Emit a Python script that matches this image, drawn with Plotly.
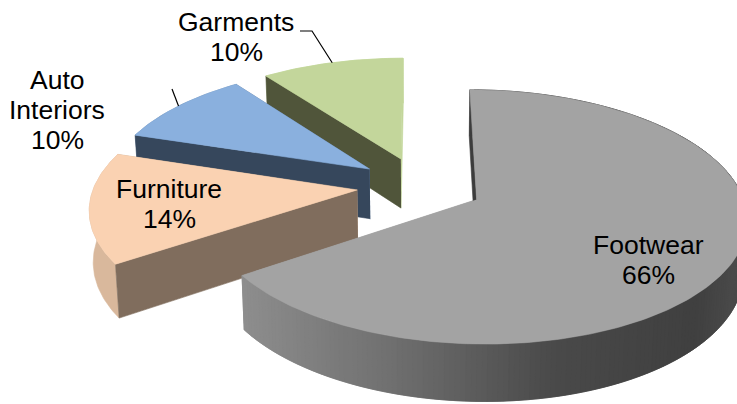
import numpy as np
import plotly.graph_objects as go

# ---- data ----
categories = ["Footwear", "Furniture", "Auto Interiors", "Garments"]
shares = [65.5, 14.4, 10.0, 10.1]

# ---- styles ----
top_colors = ["#A3A3A3", "#FAD2B2", "#8AB0DE", "#C3D69B"]
wall_colors = ["#3C3C3C", "#806D5D", "#36475C", "#50553A"]
rim_colors = [None, "#D9B89C", "#6F8FB5", "#C3D69B"]
label_lines = [["Footwear"], ["Furniture"], ["Auto", "Interiors"], ["Garments"]]
label_pos = [(648, 245), (169, 189), (57, 80), (236, 22)]
leader_elbow = {2: [(172, 89)], 3: [(300, 31), (312, 31)]}
LINE_STEP = 30

# ---- projection of the tilted, exploded pie ----
W, H = 737, 404
CX, CY, R, RB, P = 420.0, 185.7, 263.0, 121.0, 0.135
EXPLODE, DEPTH, Q = 0.24, 51.0, 0.988


def project(X, Y, bottom=False):
    s = 1.0 / (1.0 + P * np.asarray(Y, float))
    if bottom:
        return CX + R * np.asarray(X) * s * Q, CY + (-RB * np.asarray(Y) + DEPTH) * s * Q
    return CX + R * np.asarray(X) * s, CY - RB * np.asarray(Y) * s


def ang_xy(deg):
    a = np.radians(deg)
    return np.sin(a), np.cos(a)


def poly(xs, ys, color):
    return go.Scatter(x=list(xs), y=list(ys), mode="lines", fill="toself", fillcolor=color,
                      line=dict(color=color, width=0.6), hoverinfo="skip", showlegend=False)


def gray(x):
    # rim shade of the largest slice runs dark to the right
    stops_x = [245, 400, 560, 700, 737]
    stops_v = [142, 111, 74, 64, 74]
    v = int(np.interp(x, stops_x, stops_v))
    return f"rgb({v},{v},{v})"


fig = go.Figure()
bounds = np.concatenate([[0], np.cumsum(shares)]) / sum(shares) * 360.0
anchors = {}
slices = []
for i in range(len(shares)):
    a0, a1 = bounds[i], bounds[i + 1]
    mx, my = ang_xy((a0 + a1) / 2)
    ox, oy = EXPLODE * mx, EXPLODE * my
    anchors[i] = project(ox + mx, oy + my)
    slices.append((i, a0, a1, ox, oy))

# back to front: garments, auto, furniture, footwear
for i, a0, a1, ox, oy in reversed(slices):
    n = max(8, int(a1 - a0))
    angs = np.linspace(a0, a1, n + 1)
    ux, uy = ang_xy(angs)
    wx, wy = ox + ux, oy + uy
    tx, ty = project(wx, wy)
    bx, by = project(wx, wy, bottom=True)
    atx, aty = project(ox, oy)
    abx, aby = project(ox, oy, bottom=True)

    # far radial wall
    end_col = top_colors[i] if rim_colors[i] is None else rim_colors[i]
    fig.add_trace(poly([atx, tx[-1], bx[-1], abx], [aty, ty[-1], by[-1], aby], end_col))

    # outer rim
    if rim_colors[i] is None:
        # painted from the far end with overlap so no seams show
        for k in range(n - 1, -1, -1):
            e = min(k + 2, n)
            col = gray((tx[k] + tx[k + 1]) / 2)
            fig.add_trace(poly([tx[k], tx[k + 1], tx[e], bx[e], bx[k + 1], bx[k]],
                               [ty[k], ty[k + 1], ty[e], by[e], by[k + 1], by[k]], col))
    else:
        fig.add_trace(poly(list(tx) + list(bx[::-1]), list(ty) + list(by[::-1]), rim_colors[i]))

    # near radial wall
    fig.add_trace(poly([atx, tx[0], bx[0], abx], [aty, ty[0], by[0], aby], wall_colors[i]))

    # top face
    fig.add_trace(poly([atx] + list(tx), [aty] + list(ty), top_colors[i]))

# leader lines
for i, elbow in leader_elbow.items():
    pts = elbow + [(float(anchors[i][0]), float(anchors[i][1]))]
    fig.add_trace(go.Scatter(x=[p[0] for p in pts], y=[p[1] for p in pts], mode="lines",
                             line=dict(color="#000000", width=1.2), hoverinfo="skip", showlegend=False))

# labels
for i, lines in enumerate(label_lines):
    lx, ly = label_pos[i]
    for j, text in enumerate(lines + [f"{round(shares[i])}%"]):
        fig.add_annotation(x=lx, y=ly + j * LINE_STEP, text=text, showarrow=False,
                           xanchor="center", yanchor="middle",
                           font=dict(family="Liberation Sans", size=26.5, color="#000000"))

fig.update_xaxes(range=[0, W], visible=False, fixedrange=True)
fig.update_yaxes(range=[H, 0], visible=False, fixedrange=True)
fig.update_layout(width=W, height=H, margin=dict(l=0, r=0, t=0, b=0),
                  paper_bgcolor="#FFFFFF", plot_bgcolor="#FFFFFF", showlegend=False)
fig.write_html("out.html", config={"displayModeBar": False},
               post_script="document.body.style.margin='0';document.body.style.overflow='hidden';")
